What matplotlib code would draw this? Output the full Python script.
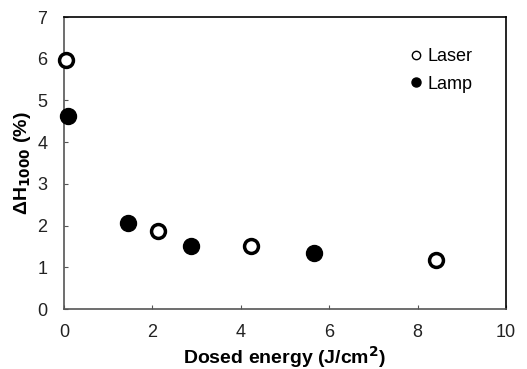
import matplotlib
matplotlib.use("Agg")
import matplotlib.pyplot as plt
from matplotlib.lines import Line2D

plt.rcParams['font.family'] = ['Liberation Sans', 'DejaVu Sans']

# data
laser_x = [0.05, 2.13, 4.22, 8.42]
laser_y = [5.97, 1.88, 1.50, 1.17]
lamp_x = [0.10, 1.45, 2.87, 5.66]
lamp_y = [4.63, 2.05, 1.50, 1.34]

fig = plt.figure(figsize=(5.27, 3.69), dpi=100)
ax = fig.add_axes([64/527, 1-309/369, (506-64)/527, (309-17)/369])

ax.plot(laser_x, laser_y, 'o', ms=10, mfc='white', mec='black', mew=2.5,
        clip_on=False, zorder=3)
ax.plot(lamp_x, lamp_y, 'o', ms=11.5, mfc='black', mec='black',
        clip_on=False, zorder=3)

ax.set_xlim(0, 10)
ax.set_ylim(0, 7)
ax.set_xticks([0, 2, 4, 6, 8, 10])
ax.set_yticks(range(8))
ax.tick_params(direction='in', length=3, labelsize=13, colors='#555555',
               labelcolor='#222222')
ax.tick_params(axis='x', pad=11)
ax.tick_params(axis='y', pad=12)
for s in ['left', 'bottom']:
    ax.spines[s].set_color('#555555')
    ax.spines[s].set_linewidth(1.2)
for s in ['top', 'right']:
    ax.spines[s].set_linewidth(1.2)

ax.set_xlabel('Dosed energy (J/cm$^\\mathbf{2}$)', fontsize=14,
              fontweight='bold')
ax.set_ylabel('ΔH$_\\mathbf{1000}$ (%)', fontsize=14, fontweight='bold')
ax.xaxis.set_label_coords(0.5, -0.12)
ax.yaxis.set_label_coords(-0.07, 0.5)

handles = [
    Line2D([], [], ls='none', marker='o', ms=6, mfc='white', mec='black', mew=1),
    Line2D([], [], ls='none', marker='o', ms=6.5, mfc='black', mec='black'),
]
ax.legend(handles, ['Laser', 'Lamp'], loc='upper right',
          bbox_to_anchor=(0.96, 0.95), frameon=False, fontsize=13,
          handletextpad=0.1, handlelength=1.0, labelspacing=0.6)

fig.savefig('out.png', dpi=100)
